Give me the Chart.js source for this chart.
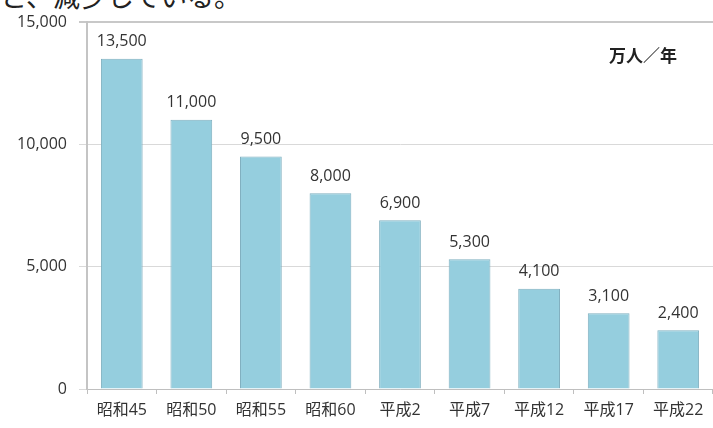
<!DOCTYPE html>
<html>
<head>
<meta charset="utf-8">
<script src="https://cdn.jsdelivr.net/npm/chart.js@4"></script>
<style>
  html, body { margin: 0; padding: 0; background: #fff; }
  #wrap { position: relative; width: 713px; height: 428px; overflow: hidden; }
  #lead { position: absolute; left: 0; top: -24px; font: 27px "Noto Sans CJK JP"; color: #222; white-space: nowrap; }
  canvas { position: absolute; left: 0; top: 0; }
</style>
</head>
<body>
<div id="wrap">
  <div id="lead">と、減少している。</div>
  <canvas id="c" width="713" height="428"></canvas>
</div>
<script>
const years = ['昭和45', '昭和50', '昭和55', '昭和60', '平成2', '平成7', '平成12', '平成17', '平成22'];
const visitors = [13500, 11000, 9500, 8000, 6900, 5300, 4100, 3100, 2400];
const yTicks = [0, 5000, 10000, 15000];
const unitLabel = '万人／年';

const fmt = v => v.toLocaleString('en-US');

// value labels above each bar plus the unit caption
const labelPlugin = {
  id: 'barLabels',
  afterDatasetsDraw(chart) {
    const ctx = chart.ctx;
    const meta = chart.getDatasetMeta(0);
    ctx.save();
    ctx.font = '16px "Open Sans", "Noto Sans"';
    ctx.fillStyle = '#333';
    ctx.textAlign = 'center';
    ctx.textBaseline = 'bottom';
    meta.data.forEach((bar, i) => {
      ctx.fillText(fmt(visitors[i]), bar.x, bar.y - 9);
    });
    ctx.font = 'bold 17px "Noto Sans CJK JP"';
    ctx.fillStyle = '#222';
    ctx.textAlign = 'left';
    ctx.textBaseline = 'middle';
    ctx.fillText(unitLabel, 609, 56);
    ctx.restore();
  }
};

new Chart(document.getElementById('c'), {
  type: 'bar',
  data: {
    labels: years,
    datasets: [{
      data: visitors,
      backgroundColor: '#95CEDE',
      borderColor: '#7FAFBF',
      borderWidth: 1,
      barPercentage: 0.6,
      categoryPercentage: 1
    }]
  },
  options: {
    responsive: false,
    animation: false,
    layout: { padding: { top: 22, right: 0, left: 0, bottom: 0 } },
    plugins: { legend: { display: false }, tooltip: { enabled: false } },
    scales: {
      x: {
        offset: true,
        grid: { drawOnChartArea: false, drawTicks: true, tickLength: 5, color: '#bfbfbf', offset: true },
        border: { color: '#bfbfbf', width: 1 },
        ticks: { color: '#333', font: { size: 16, family: '"Open Sans", "Noto Sans CJK JP"' }, padding: 7, maxRotation: 0, autoSkip: false },
        afterFit(s) { s.height = 39; }
      },
      y: {
        min: 0,
        max: 15000,
        afterBuildTicks(s) { s.ticks = yTicks.map(v => ({ value: v })); },
        grid: {
          color: ctx => ctx.tick && ctx.tick.value === 15000 ? '#c8c8c8' : '#d9d9d9',
          lineWidth: ctx => ctx.tick && ctx.tick.value === 15000 ? 2 : 1,
          tickLength: 8
        },
        border: { color: '#c4c4c4', width: 2 },
        ticks: { color: '#333', font: { size: 16, family: '"Open Sans", "Noto Sans"' }, padding: 12, callback: v => fmt(v) },
        afterFit(s) { s.width = 87; }
      }
    }
  },
  plugins: [labelPlugin]
});
</script>
</body>
</html>
